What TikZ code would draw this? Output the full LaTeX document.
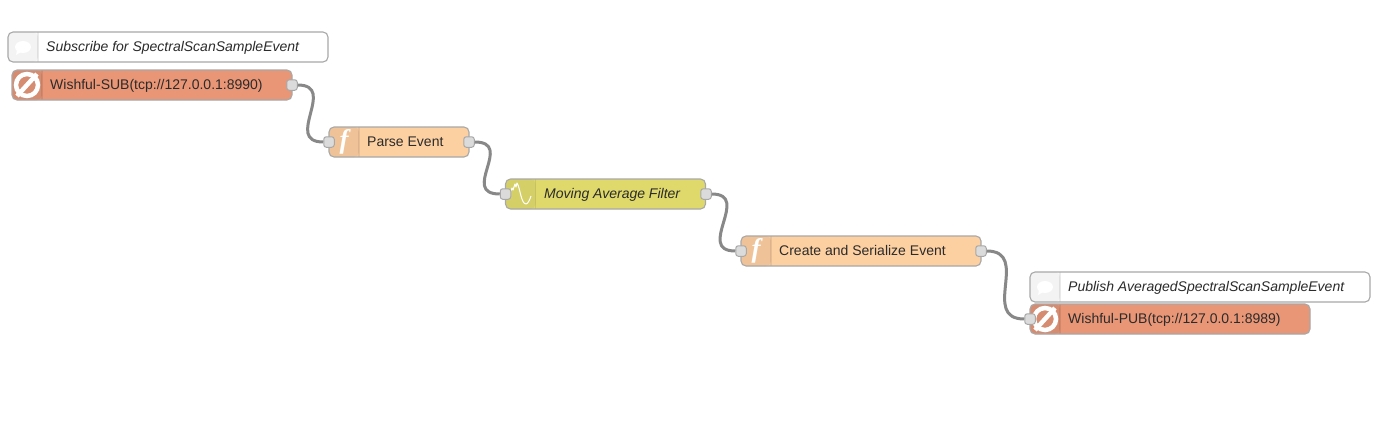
\documentclass[tikz,border=0pt]{standalone}
\usepackage{fontspec}
\setmainfont{Liberation Sans}
\newfontfamily\iconfont{Liberation Serif}
\definecolor{subred}{HTML}{E99677}
\definecolor{subredshade}{HTML}{D68C70}
\definecolor{funcorange}{HTML}{FDD0A2}
\definecolor{funcshade}{HTML}{EFC397}
\definecolor{filteryellow}{HTML}{DFD96B}
\definecolor{filtershade}{HTML}{D5CF68}
\definecolor{notegrey}{HTML}{F3F3F3}
\definecolor{nodeline}{HTML}{A8A8A8}
\definecolor{wiregrey}{HTML}{888888}
\definecolor{labelgrey}{HTML}{2B2B2B}
\tikzset{
    flownode/.style 2 args={draw=nodeline, line width=1.1pt, rounded corners=5pt, minimum height=30pt,
        inner sep=0pt, fill=#1, path picture={
            \fill[#2] (path picture bounding box.north west) rectangle ([xshift=30pt]path picture bounding box.south west);
            \draw[black, opacity=0.08] ([xshift=30pt]path picture bounding box.north west) -- ([xshift=30pt]path picture bounding box.south west);
        }},
    port/.style={draw=nodeline, fill=black!14, rounded corners=2.5pt, line width=1pt, minimum size=10.5pt, inner sep=0pt},
    wire/.style={draw=wiregrey, line width=3pt},
    flowlabel/.style={anchor=base west, inner sep=0pt, text=labelgrey, font=\fontsize{14}{16}\selectfont},
    notelabel/.style={flowlabel, font=\fontsize{14}{16}\selectfont\itshape},
    funcicon/.style={text=white, inner sep=0pt, font=\iconfont\fontsize{27}{27}\selectfont\bfseries\itshape},
    banicon/.style={draw=white, line width=4.5pt},
    noteicon/.style={fill=white, draw=none}
}
\begin{document}
\begin{tikzpicture}[x=1pt, y=-1pt]
    \useasboundingbox[fill=white] (0,0) rectangle (1392,421);

    % Flow nodes
    \node[flownode={white}{notegrey}, minimum width=320pt] (subnote) at (168,47) {};
    \node[flownode={subred}{subredshade}, minimum width=280pt] (sub) at (152,85) {};
    \node[flownode={funcorange}{funcshade}, minimum width=140pt] (parse) at (399,142) {};
    \node[flownode={filteryellow}{filtershade}, minimum width=200pt] (filter) at (605.5,194) {};
    \node[flownode={funcorange}{funcshade}, minimum width=240pt] (create) at (861,251) {};
    \node[flownode={white}{notegrey}, minimum width=340pt] (pubnote) at (1200,287) {};
    \node[flownode={subred}{subredshade}, minimum width=280pt] (pub) at (1170,319) {};

    % Labels
    \node[notelabel] (subnotelabel) at (46,51) {Subscribe for SpectralScanSampleEvent};
    \node[flowlabel] (sublabel) at (50,89) {Wishful-SUB(tcp://127.0.0.1:8990)};
    \node[flowlabel] (parselabel) at (367,146) {Parse Event};
    \node[notelabel] (filterlabel) at (544,198) {Moving Average Filter};
    \node[flowlabel] (createlabel) at (779,255) {Create and Serialize Event};
    \node[notelabel] (pubnotelabel) at (1068,291) {Publish AveragedSpectralScanSampleEvent};
    \node[flowlabel] (publabel) at (1068,323) {Wishful-PUB(tcp://127.0.0.1:8989)};

    % Icons
    \draw[banicon] (27,85) circle (11);
    \draw[banicon] (17,96) -- (37,74);
    \draw[banicon] (1045,319) circle (11);
    \draw[banicon] (1035,330) -- (1055,308);
    \node[funcicon] (parseicon) at (344,142) {f};
    \node[funcicon] (createicon) at (756,251) {f};
    \draw[white, line width=1pt, line join=round] (510,193) -- (512,188) -- (513,190) -- (515,184) -- (516,187) -- (517,183)
        .. controls (520,187) and (521,204) .. (526,204) .. controls (528,204) and (530,199) .. (531,196);
    \fill[noteicon] (23,47) ellipse (8 and 6);
    \fill[noteicon] (17,50) -- (16,55) -- (23,51) -- cycle;
    \fill[noteicon] (1045,287) ellipse (8 and 6);
    \fill[noteicon] (1039,290) -- (1038,295) -- (1045,291) -- cycle;

    % Ports
    \node[port] (subout) at (292,85) {};
    \node[port] (parsein) at (329,142) {};
    \node[port] (parseout) at (469,142) {};
    \node[port] (filterin) at (505.5,194) {};
    \node[port] (filterout) at (706,194) {};
    \node[port] (createin) at (741,251) {};
    \node[port] (createout) at (981,251) {};
    \node[port] (pubin) at (1030,319) {};

    % Wires
    \draw[wire] (subout) .. controls +(46,0) and +(-46,0) .. (parsein);
    \draw[wire] (parseout) .. controls +(46,0) and +(-46,0) .. (filterin);
    \draw[wire] (filterout) .. controls +(46,0) and +(-46,0) .. (createin);
    \draw[wire] (createout) .. controls +(50,0) and +(-50,0) .. (pubin);
\end{tikzpicture}
\end{document}
